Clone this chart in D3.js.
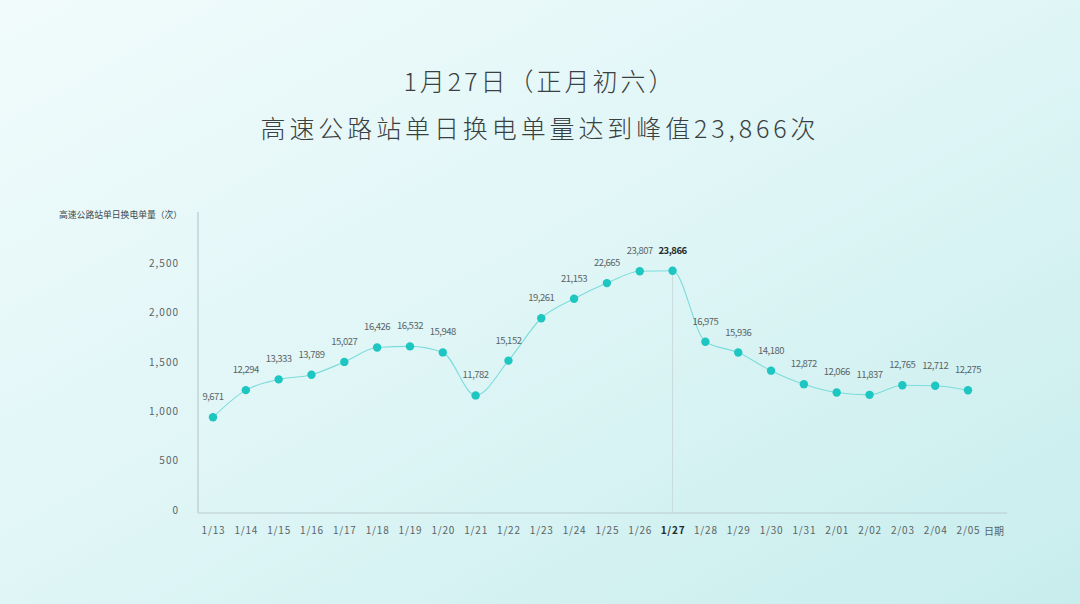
<!DOCTYPE html>
<html>
<head>
<meta charset="utf-8">
<script src="https://cdn.jsdelivr.net/npm/d3@7"></script>
<style>
  html, body { margin: 0; padding: 0; }
  body { width: 1080px; height: 604px; overflow: hidden; }
  svg { display: block; }
</style>
</head>
<body>
<div id="chart"></div>
<script>
// Daily swap counts at highway stations, 1/13 - 2/05
const dates = ['1/13', '1/14', '1/15', '1/16', '1/17', '1/18', '1/19', '1/20', '1/21', '1/22',
    '1/23', '1/24', '1/25', '1/26', '1/27', '1/28', '1/29', '1/30', '1/31', '2/01',
    '2/02', '2/03', '2/04', '2/05'];
const swaps = [9671, 12294, 13333, 13789, 15027, 16426, 16532, 15948, 11782, 15152,
    19261, 21153, 22665, 23807, 23866, 16975, 15936, 14180, 12872, 12066,
    11837, 12765, 12712, 12275];
// The axis labels as printed on the original (they read in tens)
const axisTicks = [0, 500, 1000, 1500, 2000, 2500];
const peakDate = '1/27';

const titleLines = ['1月27日（正月初六）', '高速公路站单日换电单量达到峰值23,866次'];
const yTitle = '高速公路站单日换电单量（次）';
const xTitle = '日期';

const W = 1080, H = 604;
const tokens = {
    dot: '#1ec6c1',
    line: '#7cdcdc',
    axis: '#b9cccf',
    text: '#5a6466',
    dark: '#1f2b2d',
    title: '#3a3f40',
    font: '"Noto Sans CJK SC", "Noto Sans", sans-serif'
};

const svg = d3.select('#chart').append('svg')
    .attr('width', W)
    .attr('height', H)
    .attr('viewBox', `0 0 ${W} ${H}`);

// Soft teal backdrop
const defs = svg.append('defs');
const bg = defs.append('linearGradient')
    .attr('id', 'bg')
    .attr('x1', '0%').attr('y1', '0%')
    .attr('x2', '100%').attr('y2', '100%');
bg.append('stop').attr('offset', '0%').attr('stop-color', '#f1fbfb');
bg.append('stop').attr('offset', '45%').attr('stop-color', '#e1f6f7');
bg.append('stop').attr('offset', '100%').attr('stop-color', '#c8eded');
svg.append('rect').attr('width', W).attr('height', H).attr('fill', 'url(#bg)');

// Titles
svg.selectAll('text.title')
    .data(titleLines)
    .enter()
    .append('text')
    .attr('class', 'title')
    .attr('x', W / 2)
    .attr('y', (d, i) => 91 + i * 47)
    .attr('text-anchor', 'middle')
    .attr('fill', tokens.title)
    .style('font-family', tokens.font)
    .style('font-size', '25px')
    .style('font-weight', 300)
    .style('letter-spacing', (d, i) => i === 0 ? '3px' : '3.9px')
    .text(d => d);

// Scales
const xScale = d3.scalePoint()
    .domain(dates)
    .range([213, 968]);

const yScale = d3.scaleLinear()
    .domain([0, 25000])
    .range([517, 259]);

const tickScale = d3.scaleLinear()
    .domain([0, 2500])
    .range([510, 263]);

const axisX0 = 198, axisY0 = 513, axisTop = 212, axisRight = 1007;

// Y axis (labels only, line drawn separately)
const yAxis = d3.axisLeft(tickScale)
    .tickValues(axisTicks)
    .tickSize(0)
    .tickPadding(0)
    .tickFormat(d3.format(','));

svg.append('g')
    .attr('class', 'y-axis')
    .attr('transform', 'translate(179,0)')
    .call(yAxis)
    .call(g => g.select('.domain').remove())
    .call(g => g.selectAll('.tick text')
        .attr('fill', tokens.text)
        .style('font-family', tokens.font)
        .style('font-size', '10px')
        .style('letter-spacing', '1px')
    );

svg.append('line')
    .attr('x1', axisX0).attr('x2', axisX0)
    .attr('y1', axisTop).attr('y2', axisY0)
    .attr('stroke', tokens.axis)
    .attr('stroke-width', 1.2);

svg.append('text')
    .attr('x', 59)
    .attr('y', 218)
    .attr('fill', '#3f4749')
    .style('font-family', tokens.font)
    .style('font-size', '8.8px')
    .text(yTitle);

// X axis
const xAxis = d3.axisBottom(xScale)
    .tickSize(0)
    .tickPadding(0);

svg.append('g')
    .attr('class', 'x-axis')
    .attr('transform', `translate(0,${axisY0 + 14})`)
    .call(xAxis)
    .call(g => g.select('.domain').remove())
    .call(g => g.selectAll('.tick text')
        .attr('fill', d => d === peakDate ? tokens.dark : tokens.text)
        .style('font-family', tokens.font)
        .style('font-size', '10px')
        .style('font-weight', d => d === peakDate ? 700 : 400)
        .style('letter-spacing', '0.8px')
    );

svg.append('line')
    .attr('x1', axisX0).attr('x2', axisRight)
    .attr('y1', axisY0).attr('y2', axisY0)
    .attr('stroke', tokens.axis)
    .attr('stroke-width', 1.2);

svg.append('text')
    .attr('x', 994)
    .attr('y', 535)
    .attr('text-anchor', 'middle')
    .attr('fill', tokens.text)
    .style('font-family', tokens.font)
    .style('font-size', '10px')
    .text(xTitle);

// Peak guide line
const peakIdx = dates.indexOf(peakDate);
svg.append('line')
    .attr('x1', xScale(peakDate)).attr('x2', xScale(peakDate))
    .attr('y1', yScale(swaps[peakIdx])).attr('y2', axisY0)
    .attr('stroke', '#c4d6d8')
    .attr('stroke-width', 0.8);

// Smooth line
const line = d3.line()
    .x((d, i) => xScale(dates[i]))
    .y(d => yScale(d))
    .curve(d3.curveMonotoneX);

svg.append('path')
    .datum(swaps)
    .attr('d', line)
    .attr('fill', 'none')
    .attr('stroke', tokens.line)
    .attr('stroke-width', 1.1);

// Points
svg.selectAll('circle.data-node')
    .data(swaps)
    .enter()
    .append('circle')
    .attr('class', 'data-node')
    .attr('cx', (d, i) => xScale(dates[i]))
    .attr('cy', d => yScale(d))
    .attr('r', 4.2)
    .attr('fill', tokens.dot);

// Value labels
svg.selectAll('text.value')
    .data(swaps)
    .enter()
    .append('text')
    .attr('class', 'value')
    .attr('x', (d, i) => xScale(dates[i]))
    .attr('y', d => yScale(d) - 17)
    .attr('text-anchor', 'middle')
    .attr('fill', (d, i) => dates[i] === peakDate ? tokens.dark : tokens.text)
    .style('font-family', tokens.font)
    .style('font-size', '9.5px')
    .style('font-weight', (d, i) => dates[i] === peakDate ? 700 : 400)
    .style('letter-spacing', '-0.5px')
    .text(d3.format(','));
</script>
</body>
</html>
